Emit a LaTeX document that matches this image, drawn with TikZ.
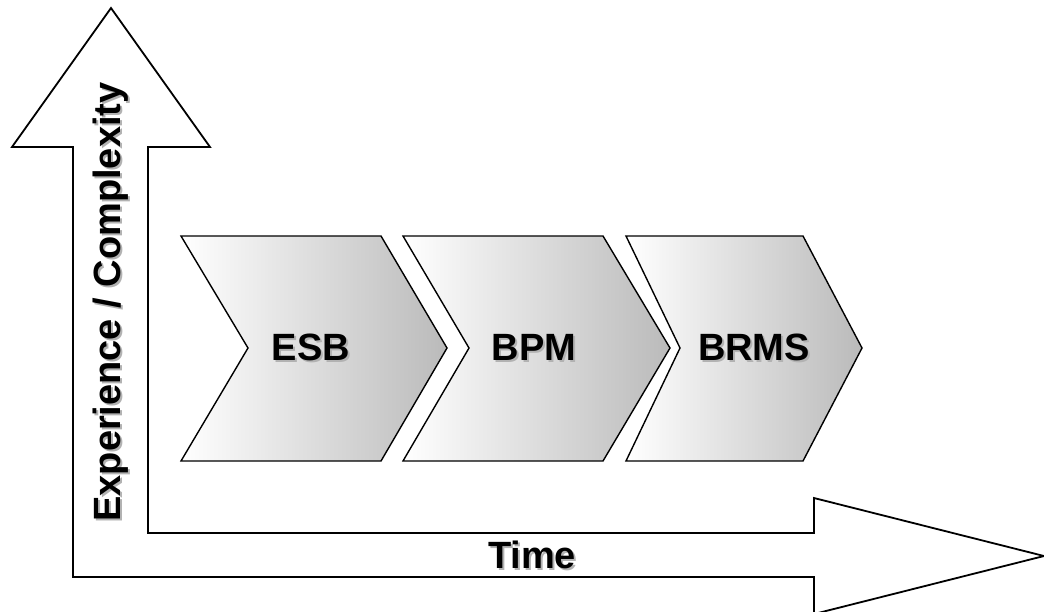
\documentclass[tikz,border=0pt]{standalone}
\usepackage{fontspec}
\setmainfont{Liberation Sans}
\usepackage{tikz}

\begin{document}
\begin{tikzpicture}[x=1pt,y=-1pt,
    axisarrow/.style={draw=black, line width=1.8pt, line join=miter},
    chev/.style={draw=black, line width=1.4pt, left color=white, middle color=black!10, right color=black!27},
    lbl/.style={font=\bfseries\fontsize{38}{40}\selectfont, text=black, inner sep=0pt},
    shade/.style={lbl, text=black!30}]
    \useasboundingbox (0,0) rectangle (1044,611);
    % L-shaped axis arrow
    \draw[axisarrow] (111,8) -- (210,147) -- (148,147) -- (148,533) -- (814,533)
        -- (814,498) -- (1044,556) -- (814,614) -- (814,577) -- (73,577)
        -- (73,147) -- (12,147) -- cycle;

    % Chevrons
    \path[chev] (181,236) -- (381,236) -- (447,348) -- (381,461) -- (181,461) -- (248,348) -- cycle;
    \path[chev] (403,236) -- (603,236) -- (670,348) -- (603,461) -- (403,461) -- (469,348) -- cycle;
    \path[chev] (626,236) -- (803,236) -- (862,348) -- (803,461) -- (626,461) -- (680,348) -- cycle;

    % Labels (shadow first)
    \node[shade] (esbs) at (313,349) {ESB};
    \node[lbl] (esb) at (311,347) {ESB};
    \node[shade] (bpms) at (536,349) {BPM};
    \node[lbl] (bpm) at (534,347) {BPM};
    \node[shade] (brmss) at (756,349) {BRMS};
    \node[lbl] (brms) at (754,347) {BRMS};

    \node[shade] (times) at (534,557) {Time};
    \node[lbl] (time) at (532,555) {Time};

    \node[shade, rotate=90, anchor=base] (ylbls) at (122,304) {Experience / Complexity};
    \node[lbl, rotate=90, anchor=base] (ylbl) at (120,302) {Experience / Complexity};
\end{tikzpicture}
\end{document}
